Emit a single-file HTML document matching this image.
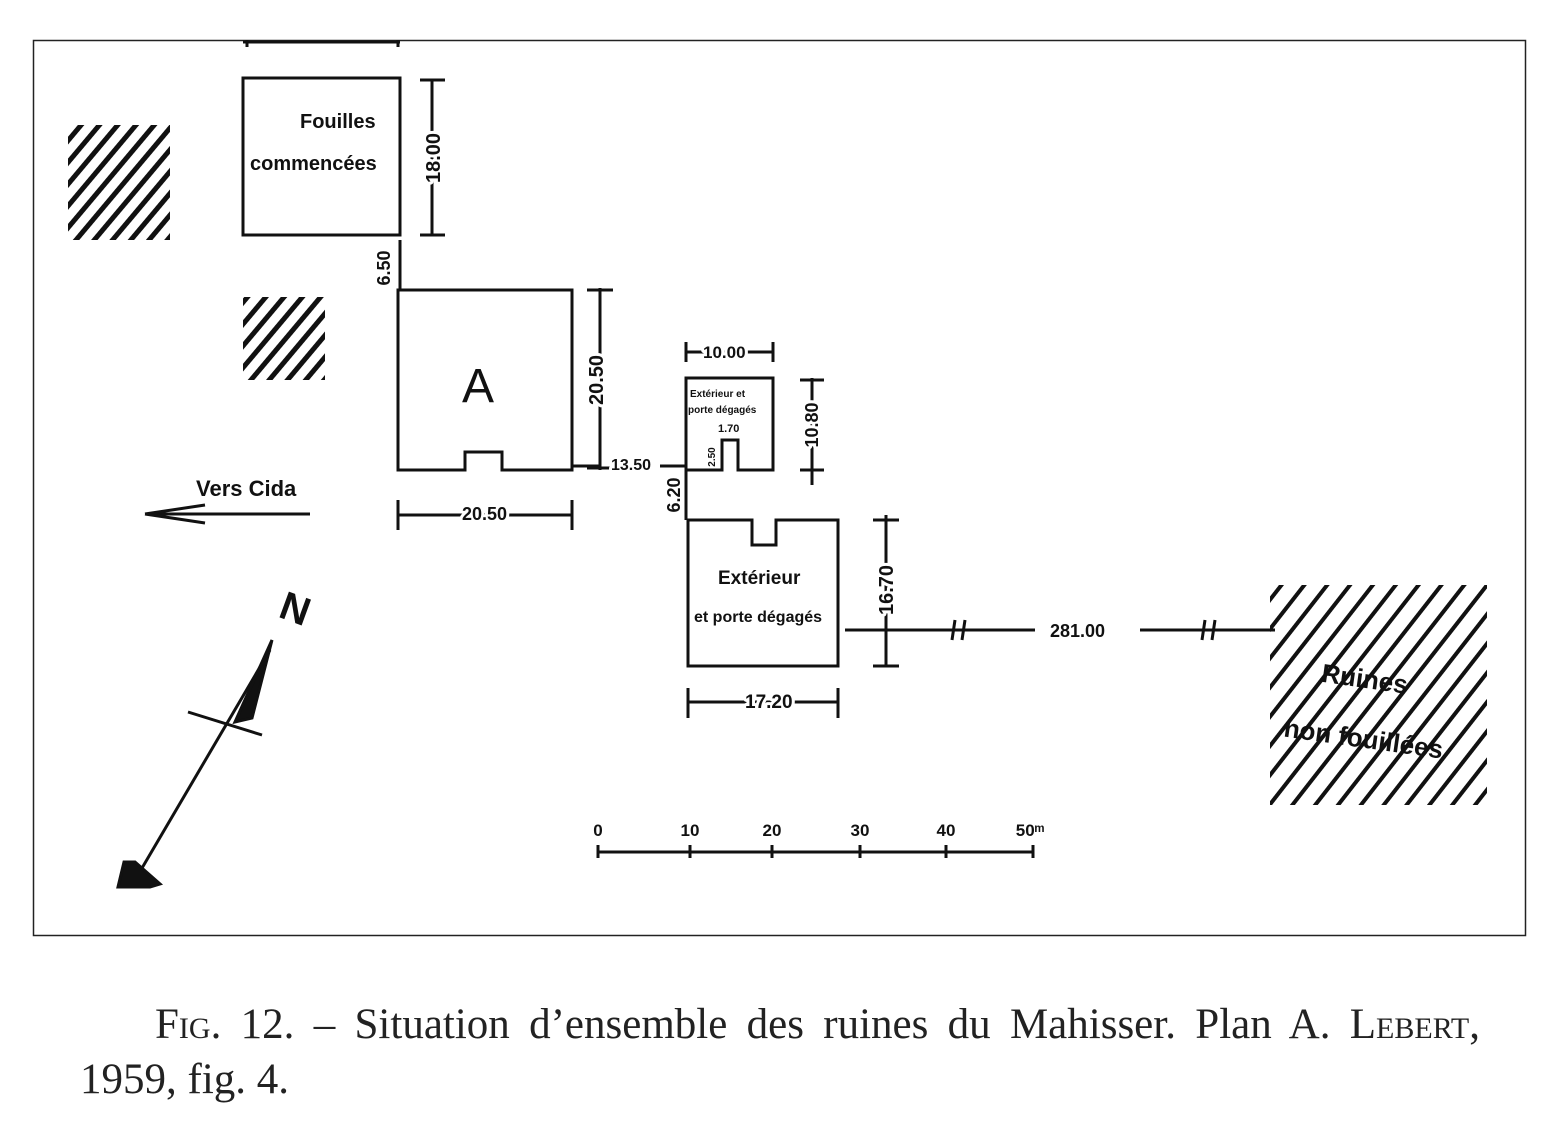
<!DOCTYPE html>
<html><head><meta charset="utf-8"><style>
body{margin:0;background:#fff;width:1560px;height:1142px;overflow:hidden}
svg{position:absolute;left:0;top:0}
.cap{position:absolute;font-family:"Liberation Serif",serif;font-size:43px;color:#222;white-space:nowrap}
.l1{left:155px;top:1000px;width:1325px;text-align:justify;text-align-last:justify}
.l2{left:80px;top:1055px}
.sc{font-variant:small-caps}
text{paint-order:stroke;stroke:#fff;stroke-width:6px;stroke-linejoin:round}
</style></head><body>
<svg width="1560" height="1142" viewBox="0 0 1560 1142">
<defs>
<pattern id="h" width="14" height="14" patternUnits="userSpaceOnUse" patternTransform="rotate(40)">
<rect width="14" height="14" fill="#fff"/><rect width="5" height="14" fill="#111"/></pattern>
<pattern id="h2" width="18" height="18" patternUnits="userSpaceOnUse" patternTransform="rotate(38)">
<rect width="18" height="18" fill="#fff"/><rect width="4" height="18" fill="#111"/></pattern>
</defs>
<rect x="33.5" y="40.5" width="1492" height="895" fill="none" stroke="#222" stroke-width="1.5"/>
<g stroke="#111" stroke-width="3" fill="none" font-family="Liberation Sans,sans-serif">
<line x1="243" y1="42" x2="400" y2="42"/><line x1="247" y1="40" x2="247" y2="47"/><line x1="398" y1="40" x2="398" y2="47"/>
<rect x="243" y="78" width="157" height="157"/>
<line x1="432" y1="80" x2="432" y2="235"/><line x1="420" y1="80" x2="445" y2="80"/><line x1="420" y1="235" x2="445" y2="235"/>
<rect x="68" y="125" width="102" height="115" fill="url(#h)" stroke="none"/>
<rect x="243" y="297" width="82" height="83" fill="url(#h)" stroke="none"/>
<rect x="1270" y="585" width="217" height="220" fill="url(#h2)" stroke="none"/>
<path d="M398 290 H572 V470 H502 V452 H465 V470 H398 Z"/>
<line x1="400" y1="240" x2="400" y2="290"/>
<line x1="600" y1="288" x2="600" y2="470"/><line x1="587" y1="290" x2="613" y2="290"/><line x1="587" y1="468" x2="613" y2="468"/>
<line x1="398" y1="515" x2="572" y2="515"/><line x1="398" y1="500" x2="398" y2="530"/><line x1="572" y1="500" x2="572" y2="530"/>
<line x1="145" y1="514" x2="310" y2="514"/><path d="M145 514 L205 505 M145 514 L205 523"/>
<path d="M686 378 H773 V470 H738 V440 H722 V470 H686 Z"/>
<line x1="686" y1="352" x2="773" y2="352"/><line x1="686" y1="342" x2="686" y2="362"/><line x1="773" y1="342" x2="773" y2="362"/>
<line x1="812" y1="378" x2="812" y2="485"/><line x1="800" y1="380" x2="824" y2="380"/><line x1="800" y1="470" x2="824" y2="470"/>
<line x1="572" y1="466" x2="600" y2="466"/><line x1="660" y1="466" x2="686" y2="466"/>
<line x1="686" y1="470" x2="686" y2="520"/>
<path d="M688 520 H752 V545 H776 V520 H838 V666 H688 Z"/>
<line x1="886" y1="515" x2="886" y2="666"/><line x1="873" y1="520" x2="899" y2="520"/><line x1="873" y1="666" x2="899" y2="666"/>
<line x1="845" y1="630" x2="1035" y2="630"/><line x1="1140" y1="630" x2="1275" y2="630"/>
<path d="M955 620 L952 640 M965 620 L962 640 M1205 620 L1202 640 M1215 620 L1212 640"/>
<line x1="688" y1="702" x2="838" y2="702"/><line x1="688" y1="688" x2="688" y2="718"/><line x1="838" y1="688" x2="838" y2="718"/>
<line x1="135" y1="880" x2="270" y2="650"/><path d="M272 640 L235 722 L252 718 Z" fill="#111"/>
<line x1="188" y1="712" x2="262" y2="735"/>
<path d="M118 887 L124 862 L135 862 L160 884 L150 887 Z" fill="#111"/>
<line x1="598" y1="852" x2="1033" y2="852"/>
<path d="M598 845 V858 M690 845 V858 M772 845 V858 M860 845 V858 M946 845 V858 M1033 845 V858"/>
</g>
<g font-family="Liberation Sans,sans-serif" fill="#111" font-weight="bold">
<text x="300" y="128" font-size="20">Fouilles</text>
<text x="250" y="170" font-size="20">commencées</text>
<text transform="translate(440,158) rotate(-90)" font-size="20" text-anchor="middle">18.00</text>
<text transform="translate(390,268) rotate(-90)" font-size="18" text-anchor="middle">6.50</text>
<text x="478" y="402" font-size="48" text-anchor="middle" font-weight="normal">A</text>
<text transform="translate(603,380) rotate(-90)" font-size="20" text-anchor="middle">20.50</text>
<text x="611" y="470" font-size="16">13.50</text>
<text x="462" y="520" font-size="18">20.50</text>
<text x="196" y="496" font-size="22">Vers Cida</text>
<text x="703" y="358" font-size="17">10.00</text>
<text x="690" y="397" font-size="10" style="stroke-width:0">Extérieur et</text>
<text x="688" y="413" font-size="10" style="stroke-width:0">porte dégagés</text>
<text x="718" y="432" font-size="11" style="stroke-width:0">1.70</text>
<text transform="translate(715,457) rotate(-90)" font-size="10" text-anchor="middle" style="stroke-width:0">2.50</text>
<text transform="translate(818,425) rotate(-90)" font-size="18" text-anchor="middle">10.80</text>
<text transform="translate(680,495) rotate(-90)" font-size="18" text-anchor="middle">6.20</text>
<text x="718" y="584" font-size="19">Extérieur</text>
<text x="694" y="622" font-size="16">et porte dégagés</text>
<text transform="translate(893,590) rotate(-90)" font-size="20" text-anchor="middle">16.70</text>
<text x="1050" y="637" font-size="18">281.00</text>
<text x="745" y="708" font-size="19">17.20</text>
<text x="282" y="622" font-size="40" transform="rotate(20 295 605)" style="stroke-width:0">N</text>
<text x="1320" y="690" font-size="26" transform="rotate(8 1380 690)" style="stroke-width:0">Ruines</text>
<text x="1282" y="750" font-size="26" transform="rotate(8 1380 750)" style="stroke-width:0">non fouillées</text>
<g font-size="17" text-anchor="middle">
<text x="598" y="836">0</text><text x="690" y="836">10</text><text x="772" y="836">20</text>
<text x="860" y="836">30</text><text x="946" y="836">40</text><text x="1030" y="836">50ᵐ</text></g>
</g>
</svg>
<div class="cap l1">F<span class="sc">ig</span>. 12. – Situation d’ensemble des ruines du Mahisser. Plan A. L<span class="sc">ebert</span>,</div>
<div class="cap l2">1959, fig. 4.</div>
</body></html>
